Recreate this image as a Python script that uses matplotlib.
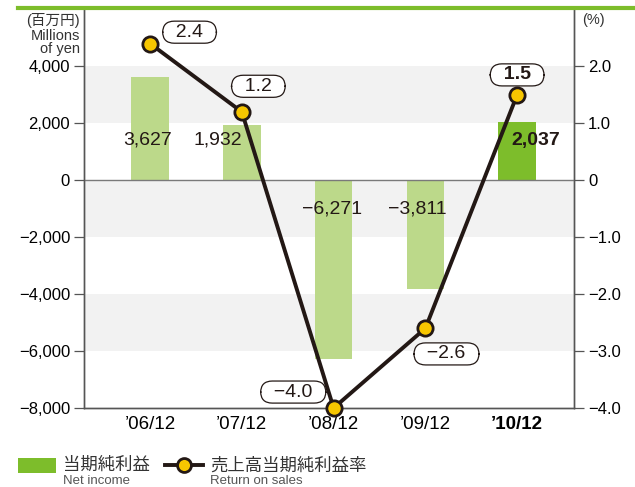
import matplotlib
matplotlib.use("Agg")
import matplotlib.pyplot as plt
import matplotlib.patches as patches
from matplotlib.lines import Line2D

plt.rcParams['font.family'] = ['Liberation Sans', 'Noto Sans CJK JP', 'DejaVu Sans']

years = ["’06/12", "’07/12", "’08/12", "’09/12", "’10/12"]
net_income = [3627, 1932, -6271, -3811, 2037]
income_labels = ["3,627", "1,932", "−6,271", "−3,811", "2,037"]
rate = [2.4, 1.2, -4.0, -2.6, 1.5]
rate_labels = ["2.4", "1.2", "−4.0", "−2.6", "1.5"]
left_ticks = [-8000, -6000, -4000, -2000, 0, 2000, 4000]
right_ticks = [-4.0, -3.0, -2.0, -1.0, 0, 1.0, 2.0]
right_tick_labels = ["−4.0", "−3.0", "−2.0", "−1.0", "0", "1.0", "2.0"]

light_green = '#bcd98a'
green = '#7dbd2b'
dark = '#231815'
yellow = '#f7c600'

fig = plt.figure(figsize=(6.35, 4.87), dpi=100)
ax = fig.add_axes([0.1323, 0.1622, 0.7717, 0.8214])
ax2 = ax.twinx()

# background bands
for lo in [2000, -2000, -6000]:
    ax.axhspan(lo, lo + 2000, color='#f2f2f2', lw=0, zorder=0)

x = list(range(len(years)))
colors = [light_green] * 4 + [green]
ax.bar(x, net_income, width=0.41, color=colors, zorder=2)
ax.axhline(0, color='#7a7a7a', lw=1.0, zorder=3)

ax.set_xlim(-0.72, 4.62)
ax.set_ylim(-8000, 6050)
ax2.set_ylim(-4.0, 3.025)

ax.set_yticks(left_ticks)
ax.set_yticklabels([f"{v:,}".replace('-', '−') for v in left_ticks], fontsize=12)
ax2.set_yticks(right_ticks)
ax2.set_yticklabels(right_tick_labels, fontsize=12)
ax.set_xticks(x)
ax.set_xticklabels(years, fontsize=13.5)
ax.get_xticklabels()[-1].set_fontweight('bold')
ax.tick_params(axis='x', length=0, pad=6)
ax.tick_params(axis='y', length=7, width=0.9, color='#555555', pad=3)
ax2.tick_params(axis='y', length=7, width=0.9, color='#555555', pad=3)

for a in (ax, ax2):
    a.spines['top'].set_visible(False)
    for s in ('left', 'right', 'bottom'):
        a.spines[s].set_color('#555555')
        a.spines[s].set_linewidth(1.0)

# bar value labels
label_pos = [(-0.03, 1400), (-0.26, 1400), (-0.02, -1000), (-0.09, -1000), (0.2, 1400)]
for i, (dx, y) in enumerate(label_pos):
    ax.text(i + dx, y, income_labels[i], ha='center', va='center', fontsize=14,
            color='#231815', fontweight='bold' if i == 4 else 'normal', zorder=5)

# return on sales line
ax2.plot(x, rate, color=dark, lw=2.8, zorder=6, solid_capstyle='round',
         marker='o', ms=11, mfc=yellow, mec=dark, mew=2, clip_on=False)

rate_pos = [(0.43, 2.6), (0.18, 1.65), (-0.44, -3.72), (0.23, -3.05), (0, 1.85)]
for i, (dx, y) in enumerate(rate_pos):
    ax2.text(i + dx, y, "  " + rate_labels[i] + "  ", ha='center', va='center', fontsize=14,
             color='#231815', fontweight='bold' if i == 4 else 'normal', zorder=7,
             bbox=dict(boxstyle='round,pad=0.13,rounding_size=0.6', fc='white',
                       ec='#231815', lw=0.9))

# top green rule
fig.add_artist(Line2D([18 / 635, 1.0], [1 - 8 / 487, 1 - 8 / 487], color=green, lw=3))

# unit labels
fig.text(80 / 635, 1 - 21 / 487, "(百万円)", ha='right', va='center', fontsize=10.5, color='#333333')
fig.text(80 / 635, 1 - 36 / 487, "Millions", ha='right', va='center', fontsize=10.5, color='#333333')
fig.text(80 / 635, 1 - 49 / 487, "of yen", ha='right', va='center', fontsize=10.5, color='#333333')
fig.text(582 / 635, 1 - 20 / 487, "(%)", ha='left', va='center', fontsize=10.5, color='#333333')

# legend
fig.add_artist(patches.Rectangle((18 / 635, 1 - 473 / 487), 38 / 635, 15 / 487,
                                 transform=fig.transFigure, fc=green, ec='none'))
fig.text(63 / 635, 1 - 465 / 487, "当期純利益", ha='left', va='center', fontsize=12.5, color='#333333')
fig.text(63 / 635, 1 - 481 / 487, "Net income", ha='left', va='center', fontsize=9.5, color='#555555')
fig.add_artist(Line2D([165 / 635, 203 / 635], [1 - 465 / 487, 1 - 465 / 487], color=dark, lw=2.8))
fig.add_artist(Line2D([184 / 635], [1 - 465 / 487], marker='o', ms=10, mfc=yellow, mec=dark, mew=2, lw=0))
fig.text(210 / 635, 1 - 465 / 487, "売上高当期純利益率", ha='left', va='center', fontsize=12.5, color='#333333')
fig.text(210 / 635, 1 - 481 / 487, "Return on sales", ha='left', va='center', fontsize=9.5, color='#555555')

fig.savefig("out.png", dpi=100)
